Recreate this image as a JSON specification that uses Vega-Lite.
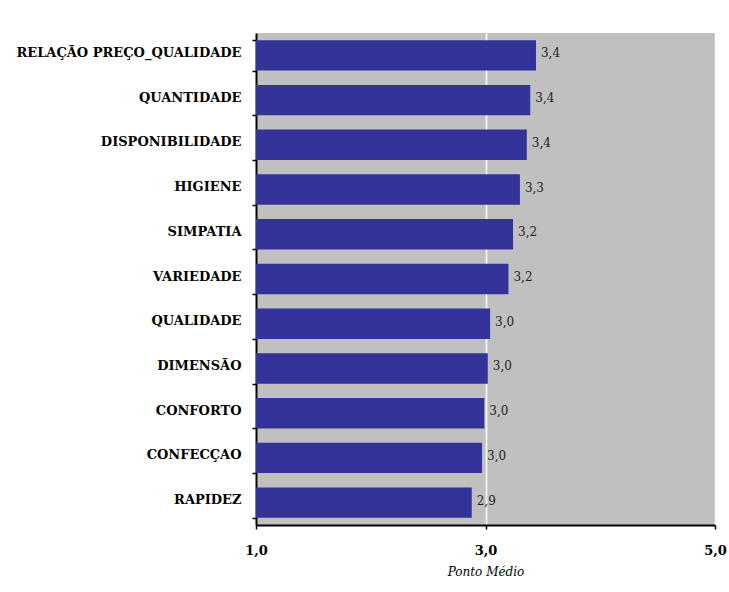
{
  "$schema": "https://vega.github.io/schema/vega-lite/v6.json",
  "width": 459,
  "height": 492,
  "autosize": {"type": "none"},
  "padding": {"left": 256, "top": 33, "right": 14, "bottom": 67},
  "background": "white",
  "config": {
    "locale": {"number": {"decimal": ",", "thousands": ".", "grouping": [3], "currency": ["", ""]}},
    "view": {"fill": "#C0C0C0", "stroke": null},
    "font": "DejaVu Serif"
  },
  "data": {
    "values": [
      {"item": "RELAÇÃO PREÇO_QUALIDADE", "v": 3.44},
      {"item": "QUANTIDADE", "v": 3.39},
      {"item": "DISPONIBILIDADE", "v": 3.36},
      {"item": "HIGIENE", "v": 3.30},
      {"item": "SIMPATIA", "v": 3.24},
      {"item": "VARIEDADE", "v": 3.20},
      {"item": "QUALIDADE", "v": 3.04},
      {"item": "DIMENSÃO", "v": 3.02},
      {"item": "CONFORTO", "v": 2.99},
      {"item": "CONFECÇAO", "v": 2.97},
      {"item": "RAPIDEZ", "v": 2.88}
    ]
  },
  "encoding": {
    "y": {
      "field": "item", "type": "nominal", "sort": null,
      "scale": {"paddingInner": 0.32, "paddingOuter": 0.16},
      "axis": {
        "title": null, "tickBand": "extent", "domainColor": "black", "domainWidth": 2,
        "tickColor": "black", "tickWidth": 1.5, "tickSize": 4, "labelPadding": 11, "labelOffset": -3,
        "labelFont": "DejaVu Serif", "labelFontWeight": "bold", "labelFontSize": 13,
        "labelColor": "black", "labelLimit": 300
      }
    }
  },
  "layer": [
    {
      "mark": {"type": "bar", "color": "#333399", "clip": true},
      "encoding": {
        "x": {
          "field": "v", "type": "quantitative",
          "scale": {"domain": [1, 5], "nice": false, "zero": false},
          "axis": {
            "values": [1, 3, 5], "format": ".1f", "title": "Ponto Médio",
            "titleFont": "DejaVu Serif", "titleFontStyle": "italic", "titleFontWeight": "normal",
            "titleFontSize": 12, "titleColor": "black", "titlePadding": 9,
            "labelFont": "DejaVu Serif", "labelFontWeight": "bold", "labelFontSize": 13,
            "labelColor": "black", "labelPadding": 15, "labelFlush": false,
            "grid": true, "gridColor": "white", "gridWidth": 1.5,
            "domainColor": "black", "domainWidth": 2, "tickColor": "black", "tickWidth": 1.5, "tickSize": 4
          }
        }
      }
    },
    {
      "mark": {"type": "text", "align": "left", "baseline": "middle", "dx": 5, "dy": -2, "fontSize": 12, "color": "#222222", "font": "DejaVu Serif"},
      "encoding": {
        "x": {"field": "v", "type": "quantitative"},
        "text": {"field": "v", "type": "quantitative", "format": ".1f"}
      }
    }
  ]
}
